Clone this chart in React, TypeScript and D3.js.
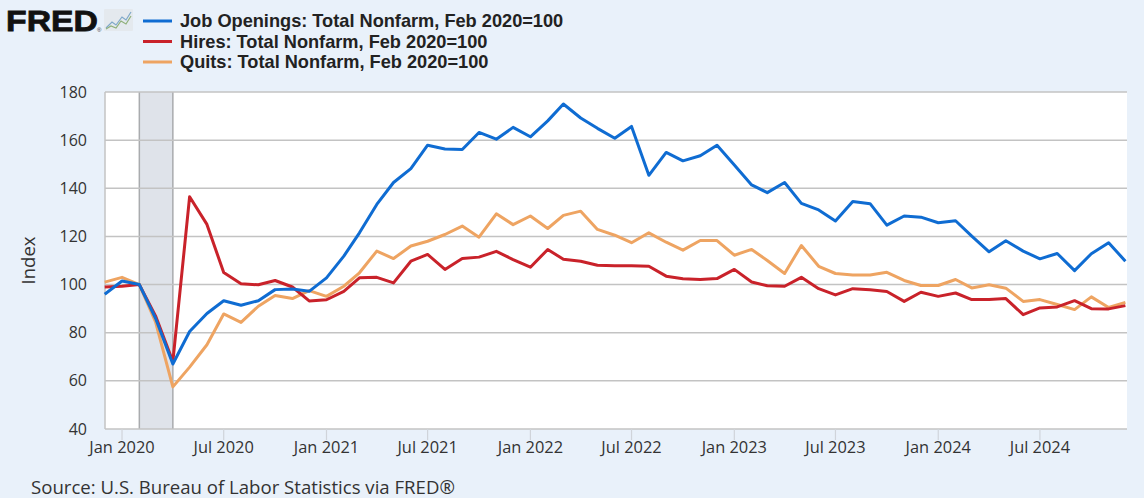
import * as d3 from "d3";

const startMonth = new Date(2019, 11, 1);

// Feb 2020 = 100, monthly Dec 2019 .. Dec 2024
const jobOpenings = [
  96, 101.5, 100, 86, 67, 80.5, 88, 93.3, 91.4, 93.3, 97.9, 98.2, 97.2,
  102.8, 111.8, 121.5, 133.3, 142.4, 148.2, 157.9, 156.3, 156.1, 163.2, 160.4, 165.3,
  161.4, 168, 175, 169.2, 164.9, 160.8, 165.7, 145.4, 154.9, 151.4, 153.5, 157.9,
  149.7, 141.4, 138.2, 142.4, 133.75, 131, 126.4, 134.5, 133.6, 124.7, 128.5, 128,
  125.7, 126.5, 120.1, 113.6, 118.2, 113.9, 110.7, 112.9, 105.8, 112.8, 117.4, 109.7,
];
const hires = [
  99, 99.3, 100, 87, 68, 136.5, 125, 105, 100.3, 99.9, 101.7, 99, 93.2,
  93.7, 97.2, 102.8, 103, 100.7, 109.7, 112.5, 106.3, 110.8, 111.4, 113.8, 110.4,
  107.2, 114.6, 110.5, 109.7, 108, 107.8, 107.8, 107.6, 103.5, 102.4, 102.1, 102.5,
  106.3, 101.1, 99.5, 99.3, 103, 98.3, 95.7, 98.3, 97.8, 97.1, 93, 96.8,
  95.1, 96.5, 93.75, 93.75, 94.2, 87.5, 90.3, 90.7, 93.3, 90, 89.9, 91.25,
];
const quits = [
  101, 103, 100, 84.5, 57.5, 65.7, 75, 87.8, 84.3, 91, 95.5, 94.2, 97.5,
  95.1, 99.3, 104.9, 113.9, 110.8, 116, 118, 120.8, 124.3, 119.7, 129.4, 124.9,
  128.5, 123.3, 128.75, 130.5, 122.9, 120.5, 117.4, 121.5, 117.6, 114.3, 118.3, 118.3,
  112.2, 114.6, 110, 104.6, 116.25, 107.6, 104.6, 104, 104, 105.1, 101.7, 99.6,
  99.6, 102.1, 98.6, 99.9, 98.5, 93, 93.75, 91.7, 89.6, 94.9, 90.5, 92.6,
];

const seriesNames = [
  "Job Openings: Total Nonfarm, Feb 2020=100",
  "Hires: Total Nonfarm, Feb 2020=100",
  "Quits: Total Nonfarm, Feb 2020=100",
];
const seriesColors = ["#0f6cd2", "#c9222a", "#eea462"];
const seriesData = [jobOpenings, hires, quits];

const yTicks = [40, 60, 80, 100, 120, 140, 160, 180];
const recession = [new Date(2020, 1, 1), new Date(2020, 3, 1)];

const W = 1144;
const H = 498;
const plot = { left: 105, right: 1127, top: 92, bottom: 429 };

export default function App() {
  const months = jobOpenings.map((_, i) => d3.timeMonth.offset(startMonth, i));

  const x = d3
    .scaleTime()
    .domain([startMonth, d3.timeMonth.offset(startMonth, 60)])
    .range([104.7, 1125.4]);
  const y = d3.scaleLinear().domain([40, 180]).range([plot.bottom, plot.top]);

  const xTicks = x.ticks(d3.timeMonth.every(6)!).filter((d) => d >= new Date(2020, 0, 1));
  const fmt = d3.timeFormat("%b %Y");

  const line = d3
    .line<number>()
    .x((_, i) => x(months[i]))
    .y((d) => y(d));

  const tickFont = "'Open Sans', 'Noto Sans', sans-serif";
  const textFont = "'Liberation Sans', Arial, sans-serif";

  return (
    <svg
      width={W}
      height={H}
      style={{ position: "absolute", left: 0, top: 0, display: "block" }}
    >
      <rect x={0} y={0} width={W} height={H} fill="#e9f1fa" />

      {/* header */}
      <text
        x={6}
        y={31}
        fontFamily={textFont}
        fontWeight={900}
        fontSize={30}
        fill="#111"
        stroke="#111"
        strokeWidth={0.8}
        textLength={92}
        lengthAdjust="spacingAndGlyphs"
      >
        FRED
      </text>
      <text x={97} y={32} fontFamily={textFont} fontSize={6} fill="#333">
        ®
      </text>
      <g>
        <rect x={104} y={9} width={29} height={22} fill="#e4e9ee" rx={1} />
        <path d="M106,28 L112,22 L116,25 L122,17 L126,20 L131,12" fill="none" stroke="#7fa8c9" strokeWidth={1.2} />
        <path d="M106,29 L111,26 L116,28 L121,21 L126,24 L131,16" fill="none" stroke="#8fb07a" strokeWidth={1.2} />
      </g>
      {seriesNames.map((name, i) => (
        <g key={name}>
          <line x1={143} x2={172} y1={21 + i * 20.5} y2={21 + i * 20.5} stroke={seriesColors[i]} strokeWidth={3} />
          <text
            x={180}
            y={21 + i * 20.5}
            dy="0.35em"
            fontFamily={textFont}
            fontWeight={700}
            fontSize={18.2}
            fill="#222"
          >
            {name}
          </text>
        </g>
      ))}

      {/* plot */}
      <rect x={plot.left} y={plot.top} width={plot.right - plot.left} height={plot.bottom - plot.top} fill="#ffffff" />
      <rect
        x={x(recession[0])}
        y={plot.top}
        width={x(recession[1]) - x(recession[0])}
        height={plot.bottom - plot.top}
        fill="#dfe3ea"
      />
      {recession.map((d, i) => (
        <line key={i} x1={x(d)} x2={x(d)} y1={plot.top} y2={plot.bottom} stroke="#a9abae" strokeWidth={1.5} />
      ))}
      {yTicks.map((t) => (
        <g key={t}>
          <line x1={plot.left} x2={plot.right} y1={y(t)} y2={y(t)} stroke="#c3c3c3" strokeWidth={1.5} />
          <text
            x={87}
            y={y(t)}
            dy="0.35em"
            textAnchor="end"
            fontFamily={tickFont}
            fontSize={16}
            fill="#333"
          >
            {t}
          </text>
        </g>
      ))}
      <line x1={plot.left} x2={plot.left} y1={plot.top} y2={plot.bottom} stroke="#c3c3c3" strokeWidth={1.5} />
      {xTicks.map((d) => (
        <g key={+d}>
          <line x1={x(d)} x2={x(d)} y1={plot.bottom} y2={plot.bottom + 11} stroke="#d0d4da" strokeWidth={1.2} />
          <text
            x={x(d)}
            y={453}
            textAnchor="middle"
            fontFamily={tickFont}
            fontSize={16.4}
            fill="#333"
          >
            {fmt(d)}
          </text>
        </g>
      ))}
      <text
        transform={`translate(35,${(plot.top + plot.bottom) / 2}) rotate(-90)`}
        textAnchor="middle"
        fontFamily={tickFont}
        fontSize={18.5}
        fill="#333"
      >
        Index
      </text>

      {seriesData.map((vals, i) => (
        <path
          key={i}
          d={line(vals) ?? ""}
          fill="none"
          stroke={seriesColors[i]}
          strokeWidth={3}
          strokeLinejoin="round"
        />
      )).reverse()}

      <text x={31} y={494} fontFamily={tickFont} fontSize={18.6} fill="#333">
        Source: U.S. Bureau of Labor Statistics via FRED®
      </text>
    </svg>
  );
}
